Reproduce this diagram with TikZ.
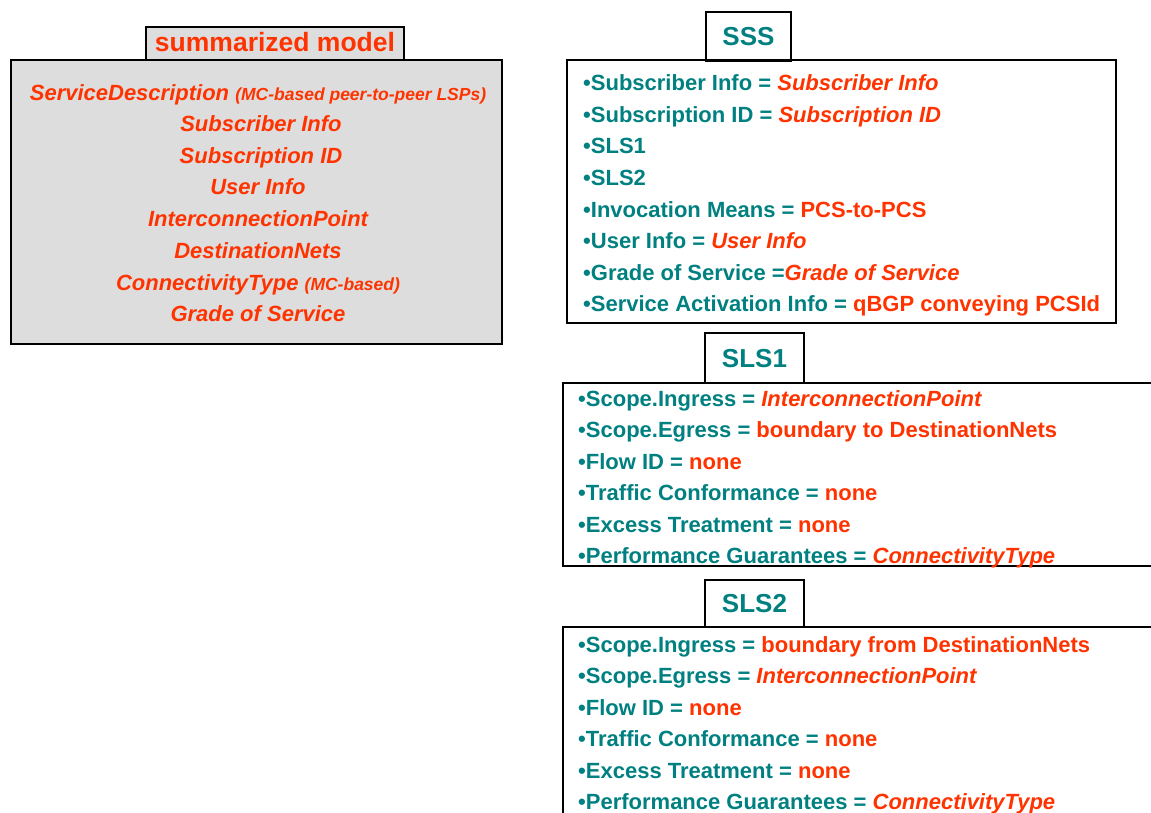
\documentclass[tikz,border=0pt]{standalone}
\usepackage{fontspec}
\setmainfont{Liberation Sans}
\definecolor{keyc}{RGB}{0,128,128}
\definecolor{valc}{RGB}{255,51,0}
\definecolor{panelc}{RGB}{221,221,221}
\newcommand\val[1]{\textcolor{valc}{#1}}
\newcommand\vali[1]{\textcolor{valc}{\itshape #1}}
\newcommand\smallnote[1]{{\fontsize{17.5}{20}\selectfont #1}}
\tikzset{
  frame/.style={draw=black, line width=1.8pt},
  item/.style={anchor=base west, inner sep=0pt, text=keyc,
    font=\bfseries\fontsize{22}{26}\selectfont},
  entry/.style={anchor=base, inner sep=0pt, text=valc,
    font=\bfseries\itshape\fontsize{22}{26}\selectfont},
  tabtext/.style={inner sep=0pt, font=\bfseries\fontsize{26}{30}\selectfont},
}
\begin{document}
\begin{tikzpicture}[x=1pt, y=-1pt]
\useasboundingbox (0,0) rectangle (1151,812);

% ---- summarized model ----
\draw[frame, fill=panelc] (146,27) rectangle (404,60);
\node[tabtext, text=valc, font=\bfseries\fontsize{26.5}{30}\selectfont] (sumtitle) at (275,42) {summarized model};
\draw[frame, fill=panelc] (11,60) rectangle (502,344);
\node[entry] (sd)  at (258,100) {ServiceDescription \smallnote{(MC-based peer-to-peer LSPs)}};
\node[entry] (si)  at (261,131) {Subscriber Info};
\node[entry] (sid) at (261,163) {Subscription ID};
\node[entry] (ui)  at (258,194) {User Info};
\node[entry] (ip)  at (258,226) {InterconnectionPoint};
\node[entry] (dn)  at (258,258) {DestinationNets};
\node[entry] (ct)  at (258,290) {ConnectivityType \smallnote{(MC-based)}};
\node[entry] (gos) at (258,321) {Grade of Service};

% ---- SSS ----
\draw[frame, fill=white] (706,12) rectangle (791,61);
\node[tabtext, text=keyc] (ssstitle) at (748.5,37) {SSS};
\draw[frame] (567,60) rectangle (1116,323);
\node[item] (s1) at (583,90)  {•Subscriber Info = \vali{Subscriber Info}};
\node[item] (s2) at (583,122) {•Subscription ID = \vali{Subscription ID}};
\node[item] (s3) at (583,153) {•SLS1};
\node[item] (s4) at (583,185) {•SLS2};
\node[item] (s5) at (583,217) {•Invocation Means = \val{PCS-to-PCS}};
\node[item] (s6) at (583,248) {•User Info = \vali{User Info}};
\node[item] (s7) at (583,280) {•Grade of Service =\vali{Grade of Service}};
\node[item] (s8) at (583,311) {•Service Activation Info = \val{qBGP conveying PCSId}};

% ---- SLS1 ----
\draw[frame, fill=white] (705,333) rectangle (804,383);
\node[tabtext, text=keyc] (sls1title) at (754.5,359) {SLS1};
\draw[frame] (1160,383) -- (563,383) -- (563,566) -- (1160,566);
\node[item] (a1) at (578,406) {•Scope.Ingress = \vali{InterconnectionPoint}};
\node[item] (a2) at (578,437) {•Scope.Egress = \val{boundary to DestinationNets}};
\node[item] (a3) at (578,469) {•Flow ID = \val{none}};
\node[item] (a4) at (578,500) {•Traffic Conformance = \val{none}};
\node[item] (a5) at (578,532) {•Excess Treatment = \val{none}};
\node[item] (a6) at (578,563) {•Performance Guarantees = \vali{ConnectivityType}};

% ---- SLS2 ----
\draw[frame, fill=white] (705,580) rectangle (804,627);
\node[tabtext, text=keyc] (sls2title) at (754.5,604) {SLS2};
\draw[frame] (1160,627) -- (563,627) -- (563,820);
\node[item] (b1) at (578,652) {•Scope.Ingress = \val{boundary from DestinationNets}};
\node[item] (b2) at (578,683) {•Scope.Egress = \vali{InterconnectionPoint}};
\node[item] (b3) at (578,715) {•Flow ID = \val{none}};
\node[item] (b4) at (578,746) {•Traffic Conformance = \val{none}};
\node[item] (b5) at (578,778) {•Excess Treatment = \val{none}};
\node[item] (b6) at (578,809) {•Performance Guarantees = \vali{ConnectivityType}};
\end{tikzpicture}
\end{document}
